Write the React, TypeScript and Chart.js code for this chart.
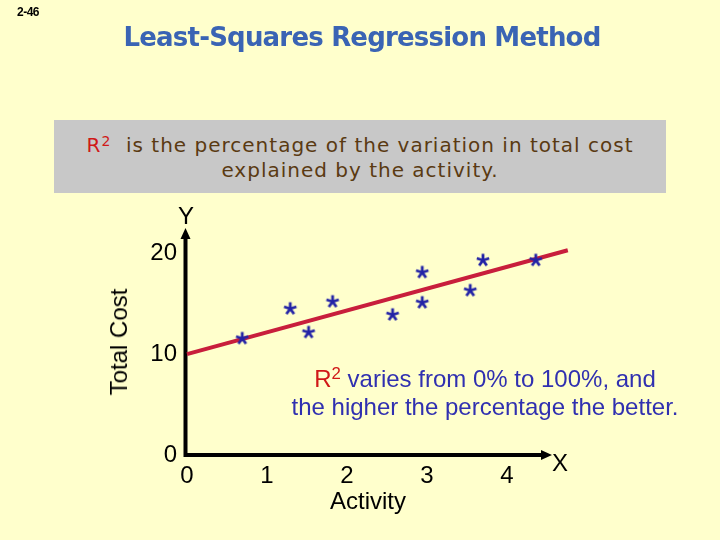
import React, { useEffect, useRef } from "react";
import { Chart, registerables } from "chart.js";

Chart.register(...registerables);

// observations (activity, total cost)
const activity = [0.69, 1.29, 1.52, 1.82, 2.57, 2.94, 2.94, 3.54, 3.7, 4.36];
const totalCost = [11.55, 14.5, 12.15, 15.2, 13.9, 18.1, 15.1, 16.3, 19.3, 19.3];

// regression line end points
const fitX = [0, 4.76];
const fitY = [10, 20.3];

const xTicks = [0, 1, 2, 3, 4];
const yTicks = [0, 10, 20];

const ARIAL = "'Liberation Sans', Arial, sans-serif";
const VERDANA = "'DejaVu Sans', Verdana, sans-serif";

// five-armed asterisk like the Arial "*" glyph
function makeAsterisk(): HTMLCanvasElement {
  const c = document.createElement("canvas");
  c.width = 16;
  c.height = 16;
  const g = c.getContext("2d");
  if (g) {
    g.strokeStyle = "#2323a6";
    g.lineWidth = 2.8;
    g.lineCap = "butt";
    for (let k = 0; k < 5; k++) {
      const a = -Math.PI / 2 + (k * 2 * Math.PI) / 5;
      g.beginPath();
      g.moveTo(8, 8);
      g.lineTo(8 + 6.5 * Math.cos(a), 8 + 6.5 * Math.sin(a));
      g.stroke();
    }
  }
  return c;
}

// black axes with arrow heads
const axesPlugin = {
  id: "arrowAxes",
  beforeDatasetsDraw(chart: Chart) {
    const { ctx, chartArea, scales } = chart;
    const x0 = scales.x.getPixelForValue(0) - 1.5;
    const y0 = scales.y.getPixelForValue(0);
    ctx.save();
    ctx.strokeStyle = "#000";
    ctx.fillStyle = "#000";
    ctx.lineWidth = 4;
    ctx.beginPath();
    ctx.moveTo(x0, y0 + 2);
    ctx.lineTo(x0, chartArea.top + 8);
    ctx.moveTo(x0 - 2, y0);
    ctx.lineTo(chartArea.right - 8, y0);
    ctx.stroke();
    ctx.beginPath();
    ctx.moveTo(x0, chartArea.top);
    ctx.lineTo(x0 - 5, chartArea.top + 11);
    ctx.lineTo(x0 + 5, chartArea.top + 11);
    ctx.closePath();
    ctx.moveTo(chartArea.right + 1, y0);
    ctx.lineTo(chartArea.right - 10, y0 - 5);
    ctx.lineTo(chartArea.right - 10, y0 + 5);
    ctx.closePath();
    ctx.fill();
    ctx.restore();
  },
};

const RegressionChart: React.FC = () => {
  const canvasRef = useRef<HTMLCanvasElement>(null);
  const chartRef = useRef<Chart | null>(null);

  useEffect(() => {
    if (!canvasRef.current) return;
    if (chartRef.current) chartRef.current.destroy();

    const star = makeAsterisk();
    const tickFont = { family: ARIAL, size: 24 };

    chartRef.current = new Chart(canvasRef.current, {
      type: "scatter",
      data: {
        datasets: [
          {
            label: "Observations",
            data: activity.map((x, i) => ({ x, y: totalCost[i] })),
            pointStyle: star,
            pointRadius: 8,
            showLine: false,
            clip: false,
          },
          {
            type: "line",
            label: "Regression line",
            data: fitX.map((x, i) => ({ x, y: fitY[i] })),
            borderColor: "#c81e3c",
            borderWidth: 4,
            pointRadius: 0,
            showLine: true,
            fill: false,
            clip: false,
          },
        ],
      },
      options: {
        responsive: true,
        maintainAspectRatio: false,
        animation: false,
        events: [],
        layout: { padding: { left: 0, top: 228, right: 169, bottom: 45 } },
        plugins: {
          legend: { display: false },
          tooltip: { enabled: false },
        },
        scales: {
          x: {
            type: "linear",
            min: 0,
            max: 4.55,
            afterFit: (s) => {
              s.height = 40;
            },
            afterBuildTicks: (s) => {
              s.ticks = xTicks.map((v) => ({ value: v }));
            },
            grid: { display: false, drawTicks: false },
            border: { display: false },
            ticks: {
              padding: 7,
              color: "#000",
              font: tickFont,
              maxRotation: 0,
              autoSkip: false,
            },
          },
          y: {
            type: "linear",
            min: 0,
            max: 22.5,
            afterFit: (s) => {
              s.width = 187;
            },
            afterBuildTicks: (s) => {
              s.ticks = yTicks.map((v) => ({ value: v }));
            },
            grid: { display: false, drawTicks: false },
            border: { display: false },
            ticks: {
              padding: 10,
              color: "#000",
              font: tickFont,
              autoSkip: false,
            },
          },
        },
      },
      plugins: [axesPlugin],
    });

    return () => {
      if (chartRef.current) {
        chartRef.current.destroy();
        chartRef.current = null;
      }
    };
  }, []);

  return (
    <div style={{ position: "absolute", left: 0, top: 0, width: 720, height: 540 }}>
      <canvas ref={canvasRef} />
    </div>
  );
};

const label = (extra: React.CSSProperties): React.CSSProperties => ({
  position: "absolute",
  fontFamily: ARIAL,
  fontSize: 24,
  lineHeight: "24px",
  color: "#000",
  whiteSpace: "nowrap",
  ...extra,
});

export default function App() {
  return (
    <div
      style={{
        position: "absolute",
        left: 0,
        top: 0,
        width: 720,
        height: 540,
        background: "#ffffcc",
        overflow: "hidden",
      }}
    >
      <RegressionChart />

      <div
        style={{
          position: "absolute",
          left: 17,
          top: 6,
          fontFamily: ARIAL,
          fontWeight: "bold",
          fontSize: 12,
          lineHeight: "12px",
          letterSpacing: -0.5,
          color: "#000",
        }}
      >
        2-46
      </div>

      <div
        style={{
          position: "absolute",
          left: 362,
          top: 24,
          transform: "translateX(-50%)",
          fontFamily: VERDANA,
          fontWeight: "bold",
          fontSize: 26,
          lineHeight: "26px",
          letterSpacing: -0.8,
          color: "#3a64b4",
          whiteSpace: "nowrap",
        }}
      >
        Least-Squares Regression Method
      </div>

      <div
        style={{
          position: "absolute",
          left: 54,
          top: 120,
          width: 612,
          height: 73,
          boxSizing: "border-box",
          paddingTop: 12.6,
          background: "#c8c8c8",
          fontFamily: VERDANA,
          fontSize: 20,
          lineHeight: "25px",
          letterSpacing: 1,
          color: "#5a3a12",
          textAlign: "center",
          whiteSpace: "nowrap",
        }}
      >
        <span style={{ color: "#d01818" }}>
          R<sup style={{ fontSize: "0.7em", lineHeight: 0, verticalAlign: "0.4em" }}>2</sup>
        </span>
        {"\u00a0 is the percentage of the variation in total cost"}
        <br />
        explained by the activity.
      </div>

      <div style={label({ left: 186, top: 216, transform: "translate(-50%, -50%)" })}>Y</div>
      <div style={label({ left: 560, top: 462.5, transform: "translate(-50%, -50%)" })}>X</div>
      <div style={label({ left: 368, top: 500.5, transform: "translate(-50%, -50%)" })}>Activity</div>
      <div
        style={label({
          left: 118.5,
          top: 342,
          transform: "translate(-50%, -50%) rotate(-90deg)",
        })}
      >
        Total Cost
      </div>

      <div
        style={label({
          left: 485,
          top: 364.7,
          transform: "translateX(-50%)",
          lineHeight: "28px",
          color: "#3030b0",
          textAlign: "center",
        })}
      >
        <span style={{ color: "#d01818" }}>
          R<sup style={{ fontSize: "0.7em", lineHeight: 0, verticalAlign: "0.45em" }}>2</sup>
        </span>
        {" varies from 0% to 100%, and"}
        <br />
        the higher the percentage the better.
      </div>
    </div>
  );
}
